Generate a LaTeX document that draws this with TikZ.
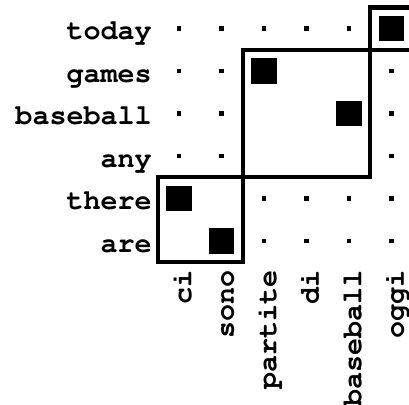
\documentclass[tikz,border=0pt]{standalone}
\usepackage[T1]{fontenc}
\newcommand\wordfont{\fontfamily{pcr}\fontseries{b}\selectfont}
\begin{document}
\begin{tikzpicture}[
    x=1cm, y=1cm,
    every node/.style={font=\wordfont\fontsize{19}{19}\selectfont},
    word/.style={inner sep=0pt},
    link/.style={rectangle, fill=black, inner sep=0pt, minimum size=0.61cm},
    blank/.style={rectangle, fill=black, inner sep=0pt, minimum size=0.11cm},
    phrase/.style={draw, line width=3pt}
]
\useasboundingbox (-3.212,-9.859) rectangle (6.412,-0.329);
% English words (rows)
\foreach \w [count=\j] in {today,games,baseball,any,there,are}
    \node[word, anchor=base east] (e\j) at (0.365,-\j-0.26) {\w};
% Italian words (columns)
\foreach \w [count=\i] in {ci,sono,partite,di,baseball,oggi}
    \node[word, rotate=90, anchor=base east] (f\i) at (\i+0.294,-6.68) {\w};
% Word alignments
\node[link] (a1) at (1,-5) {};
\node[link] (a2) at (2,-6) {};
\node[link] (a3) at (3,-2) {};
\node[link] (a4) at (5,-3) {};
\node[link] (a5) at (6,-1) {};
% Empty cells outside the phrases
\foreach \i/\j in {1/1,2/1,3/1,4/1,5/1,
                   1/2,2/2,6/2, 1/3,2/3,6/3, 1/4,2/4,6/4,
                   3/5,4/5,5/5,6/5, 3/6,4/6,5/6,6/6}
    \node[blank] (d\i\j) at (\i,-\j) {};
% Phrase pairs
\draw[phrase] (0.5,-4.5) rectangle (2.5,-6.5);
\draw[phrase] (2.5,-1.5) rectangle (5.5,-4.5);
\draw[phrase] (5.5,-0.5) rectangle (6.5,-1.5);
\end{tikzpicture}
\end{document}
